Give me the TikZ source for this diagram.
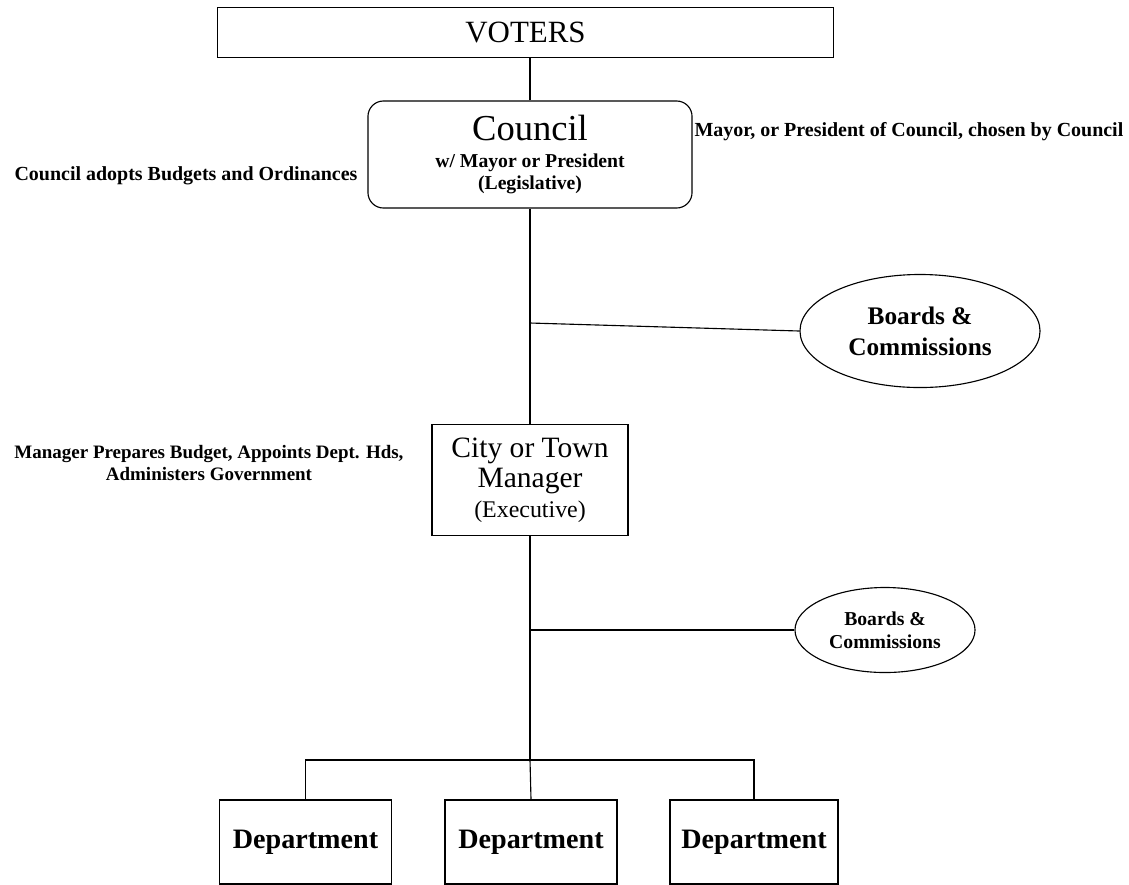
\documentclass[tikz,border=0pt]{standalone}
\usepackage{fontspec}
\setmainfont{Liberation Serif}
\usepackage{tikz}
\usetikzlibrary{positioning}
\usetikzlibrary{shapes.geometric}

\begin{document}
\begin{tikzpicture}
  [
    x=0.025cm, y=-0.025cm,
    every path/.style={line width=0.8pt},
    box/.style={draw=black, inner sep=0pt, align=center},
    oval/.style={draw=black, ellipse, inner sep=0pt, align=center},
    note/.style={inner sep=0pt, align=center,
      font=\fontsize{14.2}{16}\selectfont\bfseries}
  ]
  \useasboundingbox (0,0) rectangle (1129,884);

  \node (voters) at (525.5,32.5) [box, minimum width=15.375cm,
    minimum height=1.25cm, font=\fontsize{22}{24}\selectfont] {VOTERS};
  \node (council) at (530,154.5) [box, rounded corners=11pt,
    minimum width=8.1cm, minimum height=2.675cm,
    font=\fontsize{14}{15.6}\selectfont\bfseries]
    {{\fontsize{26}{28}\selectfont\mdseries Council}\\[4pt]
     w/ Mayor or President\\(Legislative)};
  \node (mgr) at (530,480) [box, minimum width=4.9cm,
    minimum height=2.775cm, font=\fontsize{21}{21.5}\selectfont]
    {City or Town\\Manager\\{\fontsize{17}{21.5}\selectfont (Executive)}};

  \node (bc1) at (920,331) [oval, minimum width=6cm,
    minimum height=2.825cm, font=\fontsize{18}{22}\selectfont\bfseries]
    {Boards \&\\Commissions};
  \node (bc2) at (885,630) [oval, minimum width=4.5cm,
    minimum height=2.125cm, font=\fontsize{14}{16.5}\selectfont\bfseries]
    {Boards \&\\Commissions};

  \node (dep1) at (305.5,842) [box, minimum width=4.3cm,
    minimum height=2.1cm, font=\fontsize{20}{22}\selectfont\bfseries]
    {Department};
  \node (dep2) at (531,842) [box, minimum width=4.3cm,
    minimum height=2.1cm, font=\fontsize{20}{22}\selectfont\bfseries]
    {Department};
  \node (dep3) at (754,842) [box, minimum width=4.2cm,
    minimum height=2.1cm, font=\fontsize{20}{22}\selectfont\bfseries]
    {Department};

  % side notes
  \node (adopt)  at (358,176) [note, anchor=east]
    {Council adopts Budgets and Ordinances};
  \node (chosen) at (694,132) [note, anchor=west]
    {Mayor, or President of Council, chosen by Council};
  \node (mgrnote) at (209,463) [note,
    font=\fontsize{13.5}{16}\selectfont\bfseries]
    {Manager Prepares Budget, Appoints Dept. Hds,\\Administers Government};

  \coordinate (j1)  at (530,323);
  \coordinate (j2)  at (530,630);
  \coordinate (bar) at (530,760);

  \draw (council.north) -- (council.north |- voters.south);
  \draw (council.south) -- (mgr.north);
  \draw (j1) -- (bc1.west);
  \draw (mgr.south) -- (bar);
  \draw (j2) -- (bc2.west);
  \draw (dep1.north) |- (bar) -| (dep3.north);
  \draw (bar) -- (dep2.north);
\end{tikzpicture}
\end{document}
